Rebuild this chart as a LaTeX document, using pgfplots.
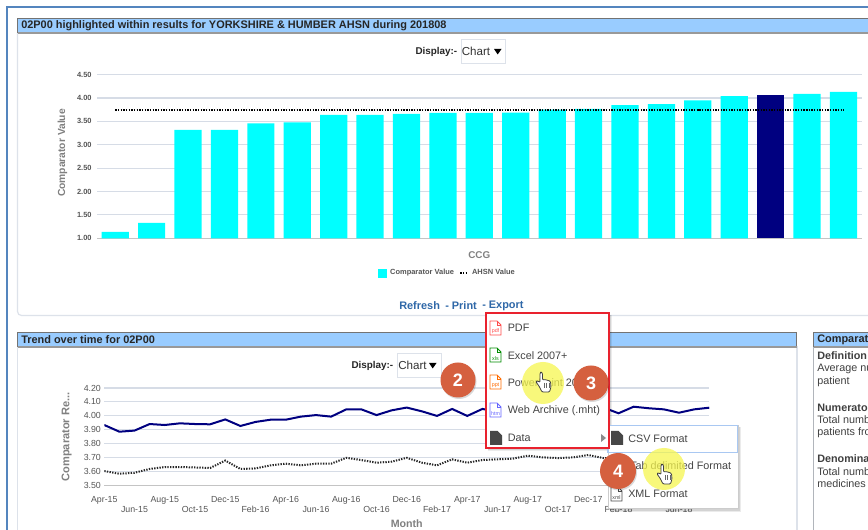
\documentclass[border=0pt]{standalone}
\usepackage{pgfplots}
\pgfplotsset{compat=1.18}
\usepackage{fontspec}
\setmainfont{Liberation Sans}
\definecolor{barcyan}{HTML}{00FFFF}
\definecolor{barnavy}{HTML}{000080}
\definecolor{gridc}{HTML}{D6DCE6}
\definecolor{baseline}{HTML}{C4C4C4}
\definecolor{tickc}{HTML}{555555}
\definecolor{labc}{HTML}{808080}
\definecolor{bluetitle}{HTML}{99CCFF}
\definecolor{frameblue}{HTML}{5485BE}
\definecolor{panelc}{HTML}{DDE2EA}
\definecolor{linkc}{HTML}{2F68A8}
\definecolor{menured}{HTML}{E9222E}
\definecolor{badge}{HTML}{D5603F}
\definecolor{yel}{HTML}{F6F650}
\definecolor{menutext}{HTML}{444444}
\definecolor{highl}{HTML}{A9C8F2}
\newcommand\fs[1]{\fontsize{#1}{#1}\selectfont}
\newcommand\hand[1]{\begin{scope}[shift={#1}]
 \draw[fill=white,draw=black!75,line width=0.6pt,rounded corners=0.8,line join=round]
 (-2,1)--(-1,-0.4)--(0.4,1)--(0.4,8)--(2.5,7.5)--(4.5,8)--(6.5,8.5)--(8.5,9.5)--(9,15)--(7.5,20)--(0,20)--(-3,14)--(-6,10)--(-5,8.5)--(-2,10.5)--cycle;
 \draw[draw=black!60,line width=0.4pt] (2.5,11)--(2.5,16) (4.7,11)--(4.7,16) (6.8,11)--(6.8,16);
 \end{scope}}
\newcommand\fileicon[4]{\begin{scope}[shift={#1}]
 \draw[#2,line width=0.6pt,fill=white] (0,0)--(7,0)--(11,4)--(11,14)--(0,14)--cycle;
 \draw[#2,line width=0.5pt] (7,0)--(7,4)--(11,4);
 \node[text=#2,font=\fs{4},inner sep=0pt] at (5.5,10.5) {#3};
 \end{scope}}
\newcommand\darkicon[1]{\fill[black!72,shift={#1}] (0,0)--(7.5,0)--(12,4.5)--(12,14)--(0,14)--cycle;}
\begin{document}
\begin{tikzpicture}[x=0.75pt,y=-0.75pt]
\path[use as bounding box] (0,0) rectangle (868,530);
\fill[white] (0,0) rectangle (868,530);
% outer frame
\draw[frameblue,line width=1.5pt] (7,530)--(7,7)--(868,7);
% top panel
\draw[panelc,line width=0.9pt,rounded corners=3] (17.5,33)--(17.5,315.5)--(868,315.5);
\fill[bluetitle] (17.5,18.5) rectangle (868,33);
\draw[black!55,line width=0.6pt] (17.5,33)--(17.5,18.5)--(868,18.5);
\draw[black!40,line width=0.9pt] (17.5,33)--(868,33);
\node[anchor=west,inner sep=0pt,font=\fs{8.2}\bfseries,text=black!85] at (21,25.5) {02P00 highlighted within results for YORKSHIRE \& HUMBER AHSN during 201808};
% bottom panel
\draw[panelc,line width=0.9pt] (17.5,346)--(17.5,530);
\draw[panelc,line width=0.9pt] (797,346)--(797,530);
\fill[bluetitle] (17.5,332.5) rectangle (796.5,347);
\draw[black!55,line width=0.6pt] (17.5,347)--(17.5,332.5)--(796.5,332.5)--(796.5,347);
\draw[black!40,line width=0.9pt] (17.5,347)--(796.5,347);
\node[anchor=west,inner sep=0pt,font=\fs{8.2}\bfseries,text=black!85] at (21,339.5) {Trend over time for 02P00};
% right panel
\fill[bluetitle] (813.5,332.5) rectangle (868,347);
\draw[black!55,line width=0.6pt] (813.5,347)--(813.5,332.5)--(868,332.5);
\draw[black!40,line width=0.9pt] (813.5,347)--(868,347);
\draw[panelc!80!black,line width=0.7pt] (813.5,347)--(813.5,530);
\node[anchor=west,inner sep=0pt,font=\fs{8.2}\bfseries,text=black!85] at (817,339.5) {Comparat};
\foreach \yy/\tt/\ff in {356/Definition/\bfseries,369/Average nu/,382/patient/,408/Numerato/\bfseries,420/Total numb/,433/patients fro/,459/Denomina/\bfseries,472/Total numb/,484/medicines/}{
 \node[anchor=west,inner sep=0pt,font=\fs{8.1}\ff,text=black!75] at (817,\yy) {\tt};}
% display boxes
\node[anchor=east,inner sep=0pt,font=\fs{7.4}\bfseries,text=black!85] at (457.5,51.5) {Display:-};
\draw[panelc,line width=0.6pt] (461.5,39.5) rectangle (505.5,63);
\node[anchor=west,inner sep=0pt,font=\fs{8.7},text=black!80] at (461.5,51) {Chart};
\fill[black] (494,49)--(501.5,49)--(497.7,54.5)--cycle;
\node[anchor=east,inner sep=0pt,font=\fs{7.4}\bfseries,text=black!85] at (393.5,365.5) {Display:-};
\draw[panelc,line width=0.6pt] (397.5,353.5) rectangle (441,377);
\node[anchor=west,inner sep=0pt,font=\fs{8.7},text=black!80] at (398,365) {Chart};
\fill[black] (429,363)--(436.5,363)--(432.7,368.5)--cycle;
% top chart
\begin{axis}[
 at={(72.75pt,-178.7pt)},anchor=south west,scale only axis,
 width=573.5pt,height=122.7pt,
 xmin=-0.5,xmax=20.5,ymin=1,ymax=4.5,
 axis x line*=bottom,axis y line*=left,
 x axis line style={draw=baseline,line width=0.9pt,-},
 y axis line style={draw=none},
 xtick=\empty,
 ytick={1,1.5,2,2.5,3,3.5,4,4.5},
 ymajorgrids,major grid style={gridc,line width=0.8pt},
 tick style={draw=none},
 yticklabel style={font=\fs{5.6}\bfseries,text=tickc,/pgf/number format/fixed,/pgf/number format/fixed zerofill,/pgf/number format/precision=2,/pgf/number format/assume math mode=true},
 yticklabel shift=0.5pt,
 xlabel={CCG},
 xlabel style={font=\fs{7.4}\bfseries,text=labc,at={(axis description cs:0.5,-0.1)},anchor=center},
 ylabel={Comparator Value},
 ylabel style={font=\fs{7.7}\bfseries,text=labc,at={(axis description cs:-0.045,0.521)},anchor=center},
 legend columns=2,
 legend style={draw=none,fill=none,font=\fs{5.6}\bfseries,text=tickc,at={(axis description cs:0.459,-0.213)},anchor=center,
   inner sep=0pt,/tikz/every even column/.append style={column sep=2pt}},
]
\addplot[ybar,bar width=20.4pt,bar shift=0pt,draw=none,fill=barcyan,
 legend image code/.code={\fill[barcyan] (0pt,-3.4pt) rectangle (6.75pt,3.4pt);}] coordinates {
 (0,1.135)(1,1.33)(2,3.32)(3,3.32)(4,3.46)(5,3.48)(6,3.64)(7,3.64)(8,3.66)(9,3.68)(10,3.68)(11,3.69)(12,3.75)(13,3.77)(14,3.85)(15,3.87)(16,3.95)(17,4.04)(19,4.09)(20,4.13)};
\addlegendentry{Comparator Value}
\addplot[forget plot,ybar,bar width=20.4pt,bar shift=0pt,draw=none,fill=barnavy] coordinates {(18,4.06)};
\addplot[black,line width=1.5pt,dash pattern=on 1pt off 1pt,
 legend image code/.code={\draw[black,line width=1.5pt,dash pattern=on 1pt off 1pt] (0pt,0pt)--(6pt,0pt);}] coordinates {
 (0,3.75)(1,3.75)(2,3.75)(3,3.75)(4,3.75)(5,3.75)(6,3.75)(7,3.75)(8,3.75)(9,3.75)(10,3.75)(11,3.75)(12,3.75)(13,3.75)(14,3.75)(15,3.75)(16,3.75)(17,3.75)(18,3.75)(19,3.75)(20,3.75)};
\addlegendentry{AHSN Value}
\end{axis}
% links
\node[anchor=west,inner sep=0pt,font=\fs{8.2}\bfseries,text=linkc] at (399,306) {Refresh};
\node[anchor=west,inner sep=0pt,font=\fs{8.2}\bfseries,text=linkc] at (445,306) {- Print};
\node[anchor=west,inner sep=0pt,font=\fs{8.2}\bfseries,text=linkc] at (482,306) {- Export};
% bottom chart
\begin{axis}[
 at={(78.2pt,-364.3pt)},anchor=south west,scale only axis,
 width=453.75pt,height=73.3pt,
 xmin=0,xmax=40,ymin=3.5,ymax=4.2,
 axis x line*=bottom,axis y line*=left,
 x axis line style={draw=baseline,line width=0.9pt,-},
 y axis line style={draw=none},
 xtick={0,4,8,12,16,20,24,28,32,36,40},
 xticklabels={Apr-15,Aug-15,Dec-15,Apr-16,Aug-16,Dec-16,Apr-17,Aug-17,Dec-17,Apr-18,Aug-18},
 extra x ticks={2,6,10,14,18,22,26,30,34,38},
 extra x tick labels={Jun-15,Oct-15,Feb-16,Jun-16,Oct-16,Feb-17,Jun-17,Oct-17,Feb-18,Jun-18},
 extra x tick style={xticklabel style={yshift=-7.5pt},grid=none},
 ytick={3.5,3.6,3.7,3.8,3.9,4,4.1,4.2},
 ymajorgrids,major grid style={gridc,line width=0.8pt},
 tick style={draw=none},
 xticklabel style={font=\fs{6.6},text=tickc,yshift=-4.5pt},
 yticklabel style={font=\fs{6.6},text=tickc,/pgf/number format/fixed,/pgf/number format/fixed zerofill,/pgf/number format/precision=2,/pgf/number format/assume math mode=true},
 yticklabel shift=-1pt,
 xlabel={Month},
 xlabel style={font=\fs{8}\bfseries,text=labc,at={(axis description cs:0.5,-0.39)},anchor=center},
 ylabel={Comparator Re...},
 ylabel style={font=\fs{8.3}\bfseries,text=labc,at={(axis description cs:-0.062,0.5)},anchor=center},
]
\addplot[barnavy,line width=1.5pt] coordinates {
 (0,3.935)(1,3.887)(2,3.895)(3,3.942)(4,3.935)(5,3.947)(6,3.942)(7,3.94)(8,3.975)(9,3.928)(10,3.957)(11,3.973)(12,3.973)(13,3.995)(14,4.006)(15,3.995)(16,4.047)(17,4.047)(18,4.006)(19,4.04)(20,4.06)(21,4.033)(22,4.0)(23,4.05)(24,4.0)(25,4.05)(26,4.03)(27,4.05)(28,4.06)(29,4.05)(30,4.07)(31,4.05)(32,4.06)(33,4.06)(34,4.019)(35,4.066)(36,4.055)(37,4.047)(38,4.023)(39,4.047)(40,4.059)};
\addplot[black!85,line width=1.5pt,dash pattern=on 1pt off 1pt] coordinates {
 (0,3.605)(1,3.586)(2,3.593)(3,3.62)(4,3.634)(5,3.634)(6,3.631)(7,3.627)(8,3.68)(9,3.62)(10,3.624)(11,3.646)(12,3.658)(13,3.646)(14,3.658)(15,3.658)(16,3.70)(17,3.684)(18,3.665)(19,3.672)(20,3.70)(21,3.665)(22,3.646)(23,3.689)(24,3.665)(25,3.684)(26,3.689)(27,3.694)(28,3.715)(29,3.703)(30,3.698)(31,3.703)(32,3.72)(33,3.698)(34,3.70)(35,3.71)(36,3.72)(37,3.72)(38,3.71)(39,3.72)(40,3.73)};
\end{axis}
% shadows
\fill[black,opacity=0.08] (488,315) rectangle (612,451);
\fill[black,opacity=0.1] (488,315) rectangle (611,450);
\fill[black,opacity=0.08] (610,427) rectangle (741,512);
\fill[black,opacity=0.1] (610,427) rectangle (740,511);
% submenu
\fill[white] (608,425) rectangle (738,508);
\draw[black!20,line width=0.4pt] (608,425) rectangle (738,508);
\draw[highl,line width=1pt] (608,425.5) rectangle (737.5,452.5);
\darkicon{(611,431)}
\node[anchor=west,inner sep=0pt,font=\fs{8.1},text=menutext] at (628,438.5) {CSV Format};
\node[anchor=west,inner sep=0pt,font=\fs{8.1},text=menutext] at (630,466) {Tab delimited Format};
\fileicon{(611,487)}{black!70}{xml}{}
\node[anchor=west,inner sep=0pt,font=\fs{8.1},text=menutext] at (628,493.5) {XML Format};
% menu
\fill[white] (486,313) rectangle (609,448);
\fileicon{(490,321)}{red!70!white}{pdf}{}
\node[anchor=west,inner sep=0pt,font=\fs{8.1},text=menutext] at (507.5,328) {PDF};
\fileicon{(490,348)}{green!55!black}{xls}{}
\node[anchor=west,inner sep=0pt,font=\fs{8.1},text=menutext] at (507.5,355.5) {Excel 2007+};
\fileicon{(490,375)}{orange!85!red}{ppt}{}
\node[anchor=west,inner sep=0pt,font=\fs{8.1},text=menutext] at (507.5,383) {PowerPoint 2007+};
\fileicon{(490,403)}{blue!60!white}{htm}{}
\node[anchor=west,inner sep=0pt,font=\fs{8.1},text=menutext] at (507.5,410.5) {Web Archive (.mht)};
\darkicon{(490,431)}
\node[anchor=west,inner sep=0pt,font=\fs{8.1},text=menutext] at (507.5,438) {Data};
\fill[black!45] (601,434)--(606,438)--(601,442)--cycle;
\draw[menured,line width=1.4pt] (486,313) rectangle (609,448);
% highlights
\fill[yel,opacity=0.75] (543,383) circle (21);
\fill[yel,opacity=0.75] (664,469) circle (21);
\hand{(542,372)}
\hand{(663,464)}
% badges
\foreach \cx/\cy/\r/\n in {458/380/17.5/2,591/383/17.5/3,618/471/18/4}{
 \fill[black,opacity=0.15] (\cx+1,\cy+1.5) circle (\r);
 \fill[badge] (\cx,\cy) circle (\r);
 \node[text=white,font=\fs{13.5}\bfseries,inner sep=0pt] at (\cx,\cy) {\n};}
\end{tikzpicture}
\end{document}
